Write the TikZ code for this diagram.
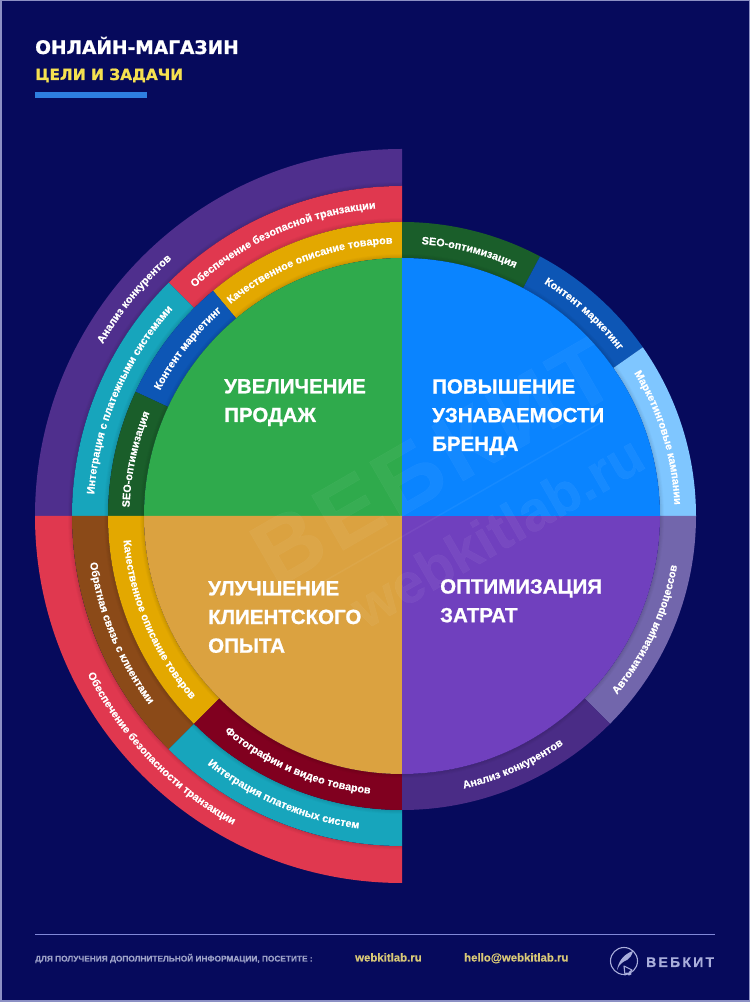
\documentclass[tikz,border=0pt]{standalone}
\usepackage{fontspec}
\setmainfont{Liberation Sans}[BoldFeatures={FakeBold=0.35}]
\newfontfamily\titlefont{Liberation Sans}[BoldFeatures={FakeBold=0.9}]
\newfontfamily\headfont{DejaVu Sans}[BoldFeatures={FakeBold=1.0}]
\usetikzlibrary{decorations.text}
\definecolor{bgnavy}{HTML}{060A5C}
\definecolor{framec}{HTML}{8C90C4}
\definecolor{cgreen}{HTML}{2FAA4C}
\definecolor{cblue}{HTML}{0A84FF}
\definecolor{corange}{HTML}{DBA240}
\definecolor{cviolet}{HTML}{7040BE}
\definecolor{rpurple}{HTML}{4F2F8D}
\definecolor{rred}{HTML}{E0384F}
\definecolor{ryellow}{HTML}{E3A800}
\definecolor{rdgreen}{HTML}{1A5E2A}
\definecolor{rdblue}{HTML}{0D56B5}
\definecolor{rteal}{HTML}{17A5BC}
\definecolor{rbrown}{HTML}{8B4A18}
\definecolor{rdred}{HTML}{80001F}
\definecolor{rlblue}{HTML}{7FC6FF}
\definecolor{rgrey}{HTML}{7266AC}
\definecolor{rdviolet}{HTML}{4A2C86}
\definecolor{footgrey}{HTML}{9DA2C8}
\definecolor{footgold}{HTML}{D8C877}
\definecolor{headyellow}{HTML}{F5E050}
\definecolor{barblue}{HTML}{2E7FE0}
\definecolor{rulec}{HTML}{8088D8}
\definecolor{logoc}{HTML}{A9AEDB}
\newcommand{\sectorfill}[5]{\fill[#1] (#4:#2pt) arc[start angle=#4,end angle=#5,radius=#2pt] -- (#5:#3pt) arc[start angle=#5,end angle=#4,radius=#3pt] -- cycle;}
\newcommand{\softedge}[3]{\foreach \i/\o in {1/.10,2/.07,3/.045,4/.02}{\draw[black,opacity=\o,line width=1pt] (#2:#1pt+\i pt-.5pt) arc[start angle=#2,end angle=#3,radius=#1pt+\i pt-.5pt];}}
\newcommand{\arcfont}{\fontsize{10.8}{10.8}\selectfont\bfseries\color{white}}
% clockwise reading (top half): radius, centre angle, text
\newcommand{\cwtext}[3]{\path[decorate,decoration={text along path,text align=center,text={|\arcfont|#3}}] (#2+45:#1pt) arc[start angle=#2+45,end angle=#2-45,radius=#1pt];}
% counter-clockwise reading (bottom half)
\newcommand{\ccwtext}[3]{\path[decorate,decoration={text along path,text align=center,text={|\arcfont|#3}}] (#2-45:#1pt) arc[start angle=#2-45,end angle=#2+45,radius=#1pt];}
\tikzset{
  maintitle/.style={anchor=north west,inner sep=0pt,align=left,text=white,font=\titlefont\fontsize{20.5}{28.7}\selectfont\bfseries},
  foottext/.style={anchor=base west,inner sep=0pt}
}
\begin{document}
\begin{tikzpicture}[x=1pt,y=1pt]
\useasboundingbox (0,0) rectangle (750,1002);
\fill[framec] (0,0) rectangle (750,1002);
\fill[bgnavy] (1.5,1.5) rectangle (748.5,1000.5);
% header
\node[anchor=base west,inner sep=0pt,text=white,font=\headfont\fontsize{18.6}{18.6}\selectfont\bfseries] (head1) at (35,948) {ОНЛАЙН-МАГАЗИН};
\node[anchor=base west,inner sep=0pt,text=headyellow,font=\headfont\fontsize{15.4}{15.4}\selectfont\bfseries] (head2) at (35,922) {ЦЕЛИ И ЗАДАЧИ};
\fill[barblue] (35,903.5) rectangle (146.5,909.5);
\begin{scope}[shift={(402,486)}]
% outer ring
\sectorfill{rpurple}{330}{367}{90}{180}
\sectorfill{rred}{330}{367}{180}{270}
% second ring
\sectorfill{rred}{294}{330}{90}{135}
\sectorfill{rteal}{294}{330}{135}{180}
\sectorfill{rbrown}{294}{330}{180}{225}
\sectorfill{rteal}{294}{330}{225}{270}
\softedge{330}{90}{270}
% third ring
\sectorfill{ryellow}{258}{294}{90}{130}
\sectorfill{rdblue}{258}{294}{130}{155}
\sectorfill{rdgreen}{258}{294}{155}{180}
\sectorfill{ryellow}{258}{294}{180}{225}
\sectorfill{rdred}{258}{294}{225}{270}
\sectorfill{rdgreen}{258}{294}{62}{90}
\sectorfill{rdblue}{258}{294}{35}{62}
\sectorfill{rlblue}{258}{294}{0}{35}
\sectorfill{rgrey}{258}{294}{-45}{0}
\sectorfill{rdviolet}{258}{294}{-90}{-45}
\softedge{294}{90}{270}
% core
\fill[cgreen] (0,0) -- (90:258pt) arc[start angle=90,end angle=180,radius=258pt] -- cycle;
\fill[corange] (0,0) -- (180:258pt) arc[start angle=180,end angle=270,radius=258pt] -- cycle;
\fill[cviolet] (0,0) -- (270:258pt) arc[start angle=270,end angle=360,radius=258pt] -- cycle;
\fill[cblue] (0,0) -- (0:258pt) arc[start angle=0,end angle=90,radius=258pt] -- cycle;
\softedge{258}{0}{360}
% faint watermark
\begin{scope}
\clip (0,0) circle (258pt);
\node[rotate=30,text=white,opacity=.045,inner sep=0pt,font=\fontsize{92}{92}\selectfont\bfseries\addfontfeature{LetterSpace=6}] (wmark1) at (31,54) {ВЕБКИТ};
\node[rotate=30,text=white,opacity=.05,inner sep=0pt,font=\fontsize{56}{56}\selectfont\bfseries] (wmark2) at (95,-15) {webkitlab.ru};
\coordinate (wl1) at (-105,-81);
\coordinate (wl2) at (198,93);
\draw[white,opacity=.05,line width=1.5pt] (wl1) -- (wl2);
\end{scope}
% ring labels
\cwtext{345}{141}{Анализ конкурентов}
\cwtext{308.5}{113.6}{Обеспечение безопасной транзакции}
\cwtext{272.5}{110.5}{Качественное описание товаров}
\cwtext{272.5}{142}{Контент маркетинг}
\cwtext{308.5}{157}{Интеграция с платежными системами}
\cwtext{272.5}{168}{SEO-оптимизация}
\cwtext{272.5}{75.7}{SEO-оптимизация}
\cwtext{272.5}{48}{Контент маркетинг}
\cwtext{272.5}{17}{Маркетинговые кампании}
\ccwtext{352}{224}{Обеспечение безопасности транзакции}
\ccwtext{315.5}{202.6}{Обратная связь с клиентами}
\ccwtext{279.5}{203}{Качественное описание товаров}
\ccwtext{315.5}{247}{Интеграция платежных систем}
\ccwtext{279.5}{247}{Фотографии и видео товаров}
\ccwtext{279.5}{-66}{Анализ конкурентов}
\ccwtext{279.5}{-25}{Автоматизация процессов}
\end{scope}
% titles
\node[maintitle] (t1) at (224,623) {УВЕЛИЧЕНИЕ\\ПРОДАЖ};
\node[maintitle] (t2) at (432,623) {ПОВЫШЕНИЕ\\УЗНАВАЕМОСТИ\\БРЕНДА};
\node[maintitle] (t3) at (208,421) {УЛУЧШЕНИЕ\\КЛИЕНТСКОГО\\ОПЫТА};
\node[maintitle] (t4) at (440,423) {ОПТИМИЗАЦИЯ\\ЗАТРАТ};
% footer
\draw[rulec,line width=1.2pt] (35,67.5) -- (715,67.5);
\node[foottext,text=footgrey,font=\fontsize{8.3}{8.3}\selectfont\bfseries] (f1) at (35,40.5) {ДЛЯ ПОЛУЧЕНИЯ ДОПОЛНИТЕЛЬНОЙ ИНФОРМАЦИИ, ПОСЕТИТЕ :};
\node[foottext,text=footgold,font=\fontsize{11.4}{11.4}\selectfont\bfseries] (f2) at (355,40.5) {webkitlab.ru};
\node[foottext,text=footgold,font=\fontsize{11.4}{11.4}\selectfont\bfseries] (f3) at (464,40.5) {hello@webkitlab.ru};
% logo
\draw[logoc,line width=1.1pt] (624,41) circle (13.5pt);
\fill[logoc] (633,51) .. controls (627,49) and (619,44) .. (617,32) .. controls (619,38) and (624,41) .. (627,42) .. controls (630,44) and (632,47) .. cycle;
\draw[logoc,line width=1.1pt,line join=round] (624,36) -- (632,32) -- (629,29.5) -- (631,28) -- (629,27) -- (627,29) -- (625,27) -- cycle;
\node[foottext,text=logoc,font=\fontsize{14}{14}\selectfont\bfseries\addfontfeature{LetterSpace=16,FakeBold=0.8}] (f4) at (646,35) {ВЕБКИТ};
\end{tikzpicture}
\end{document}
